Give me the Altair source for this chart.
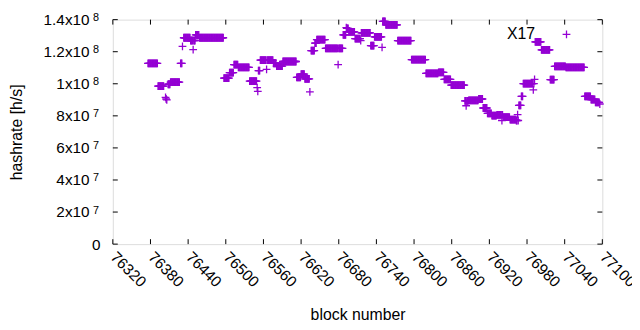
import altair as alt
import pandas as pd

# ---- data ----
# runs of consecutive blocks sharing one hashrate value (h/s)
run_start = [76376, 76392, 76408, 76412, 76428, 76433, 76444, 76449, 76452, 76458,
             76497, 76506, 76513, 76520, 76538, 76552, 76555, 76566, 76576, 76581,
             76591, 76613, 76620, 76626, 76636, 76642, 76645, 76659, 76680, 76687,
             76693, 76696, 76706, 76716, 76731, 76737, 76750, 76755, 76774, 76796,
             76819, 76839, 76848, 76859, 76881, 76884, 76887, 76903, 76910, 76917,
             76924, 76932, 76941, 76942, 76953, 76963, 76966, 76967, 76971, 76974,
             76991, 76993, 77003, 77017, 77024, 77042, 77072, 77082, 77089]
run_end = [76391, 76401, 76411, 76426, 76430, 76443, 76447, 76451, 76457, 76496,
           76505, 76512, 76519, 76537, 76549, 76554, 76564, 76575, 76580, 76590,
           76612, 76619, 76625, 76633, 76641, 76644, 76658, 76678, 76686, 76691,
           76695, 76705, 76714, 76730, 76736, 76748, 76754, 76773, 76795, 76818,
           76838, 76847, 76858, 76880, 76882, 76886, 76902, 76909, 76916, 76923,
           76931, 76939, 76941, 76952, 76962, 76964, 76966, 76970, 76973, 76989,
           76991, 77002, 77016, 77023, 77041, 77071, 77081, 77088, 77095]
run_value = [112.7e6, 98.5e6, 99.7e6, 101.0e6, 112.7e6, 128.7e6, 127.0e6, 127.0e6, 130.5e6, 128.7e6,
             103.5e6, 106.9e6, 112.0e6, 110.2e6, 101.6e6, 108.2e6, 114.7e6, 114.7e6, 112.7e6, 111.0e6,
             113.9e6, 104.0e6, 106.0e6, 103.0e6, 120.7e6, 125.4e6, 127.5e6, 122.1e6, 122.1e6, 130.5e6,
             134.5e6, 132.4e6, 128.1e6, 131.8e6, 123.8e6, 129.3e6, 138.9e6, 136.7e6, 126.9e6, 115.1e6,
             106.5e6, 107.1e6, 102.8e6, 99.1e6, 89.4e6, 89.4e6, 89.6e6, 90.5e6, 84.9e6, 81.6e6,
             80.2e6, 80.6e6, 80.6e6, 79.2e6, 77.7e6, 77.1e6, 77.1e6, 86.5e6, 92.1e6, 100.1e6,
             100.1e6, 126.2e6, 121.1e6, 102.6e6, 110.8e6, 110.2e6, 92.1e6, 90.2e6, 88.4e6]

# isolated blocks
single_block = [76404, 76405, 76406, 76431, 76448, 76550, 76551, 76565, 76634, 76679,
                76692, 76715, 76749, 76883, 76940, 76965, 76990, 76992, 77096]
single_value = [91.5e6, 90.5e6, 90.0e6, 123.3e6, 121.3e6, 97.6e6, 95.2e6, 109.0e6, 95.0e6, 112.0e6,
                135.0e6, 126.9e6, 122.7e6, 86.3e6, 77.1e6, 80.8e6, 96.2e6, 102.8e6, 87.4e6]

series_name = "X17"
x_ticks = [76320, 76380, 76440, 76500, 76560, 76620, 76680, 76740, 76800, 76860,
           76920, 76980, 77040, 77100]
y_ticks = [0, 20000000, 40000000, 60000000, 80000000, 100000000, 120000000, 140000000]
y_tick_base = ["0", "2x10", "4x10", "6x10", "8x10", "1x10", "1.2x10", "1.4x10"]
y_tick_exp = ["", "7", "7", "7", "7", "8", "8", "8"]

# ---- build tables ----
blocks, values = [], []
for s, e, v in zip(run_start, run_end, run_value):
    for b in range(s, e + 1):
        blocks.append(b)
        values.append(v)
blocks += single_block
values += single_value
df = pd.DataFrame({"block": blocks, "hashrate": values, "series": series_name})

W, H = 495, 227
FONT = "Liberation Sans"
FS = 15.5
FT = 16
PURPLE = "#9400D3"
PLUS = "M-1,0H1M0,-1V1"
PLUS_KEY = "M9.1,0H11.1M10.1,-1V1"   # key sample drawn to the right of its label
MSIZE = 62

label_expr = ""
for v, lab in zip(y_ticks, y_tick_base):
    label_expr += f"datum.value == {v} ? '{lab}' : "
label_expr += "''"

xscale = alt.Scale(domain=[x_ticks[0], x_ticks[-1]], nice=False, zero=False)
yscale = alt.Scale(domain=[y_ticks[0], y_ticks[-1]], nice=False)

xaxis = alt.Axis(values=x_ticks, format="d", labelAngle=45, labelAlign="left",
                 labelBaseline="middle", labelPadding=10, ticks=False, domain=False, grid=False,
                 labelFont=FONT, labelFontSize=FS, labelColor="black",
                 labelOverlap=False, labelFlush=False,
                 title="block number", titleFont=FONT, titleFontSize=FT,
                 titleFontWeight="normal", titleColor="black",
                 titleX=W / 2, titleY=71, titleBaseline="middle", titleAlign="center")
yaxis = alt.Axis(values=y_ticks, labelExpr=label_expr,
                 labelPadding={"condition": {"test": "datum.value == 0", "value": 13}, "value": 24},
                 ticks=False, domain=False, grid=False,
                 labelFont=FONT, labelFontSize=FS, labelColor="black", labelOverlap=False,
                 title="hashrate [h/s]", titleFont=FONT, titleFontSize=FT,
                 titleFontWeight="normal", titleColor="black",
                 titleX=-97, titleY=H / 2, titleBaseline="middle", titleAlign="center",
                 titleAngle=270)

points = alt.Chart(df).mark_point(
    shape=PLUS, filled=False, size=MSIZE, strokeWidth=1.3, opacity=1
).encode(
    x=alt.X("block:Q", scale=xscale, axis=xaxis),
    y=alt.Y("hashrate:Q", scale=yscale, axis=yaxis),
    color=alt.Color("series:N", scale=alt.Scale(range=[PURPLE]),
                    legend=alt.Legend(orient="none", legendX=411, legendY=7, title=None,
                                      padding=0, labelAlign="right", labelOffset=0,
                                      symbolType=PLUS_KEY, symbolSize=MSIZE,
                                      symbolStrokeWidth=1.3,
                                      labelFont=FONT, labelFontSize=FT, labelColor="black")),
)

xt = pd.DataFrame({"t": x_ticks})
yt = pd.DataFrame({"v": y_ticks, "exp": y_tick_exp})
TL = 5
xb = alt.Chart(xt).mark_rule(color="black", strokeWidth=1).encode(
    x=alt.X("t:Q", scale=xscale, axis=xaxis), y=alt.value(H), y2=alt.value(H - TL))
xtp = alt.Chart(xt).mark_rule(color="black", strokeWidth=1).encode(
    x=alt.X("t:Q", scale=xscale, axis=xaxis), y=alt.value(0), y2=alt.value(TL))
yl = alt.Chart(yt).mark_rule(color="black", strokeWidth=1).encode(
    y=alt.Y("v:Q", scale=yscale, axis=yaxis), x=alt.value(0), x2=alt.value(TL))
yr = alt.Chart(yt).mark_rule(color="black", strokeWidth=1).encode(
    y=alt.Y("v:Q", scale=yscale, axis=yaxis), x=alt.value(W), x2=alt.value(W - TL))
# superscript exponents of the y tick labels
sup = alt.Chart(yt).mark_text(
    font=FONT, fontSize=11, color="black", align="left", baseline="alphabetic", dy=1.5
).encode(
    y=alt.Y("v:Q", scale=yscale, axis=yaxis), x=alt.value(-20), text="exp:N")

chart = alt.layer(xb, xtp, yl, yr, sup, points).properties(
    width=W, height=H,
    autosize=alt.AutoSizeParams(type="none"),
    padding={"left": 106, "top": 10, "right": 30, "bottom": 79},
).configure_view(stroke="black", strokeWidth=1).configure(background="white")

chart.save("out.html", embed_options={"renderer": "svg", "actions": False})
